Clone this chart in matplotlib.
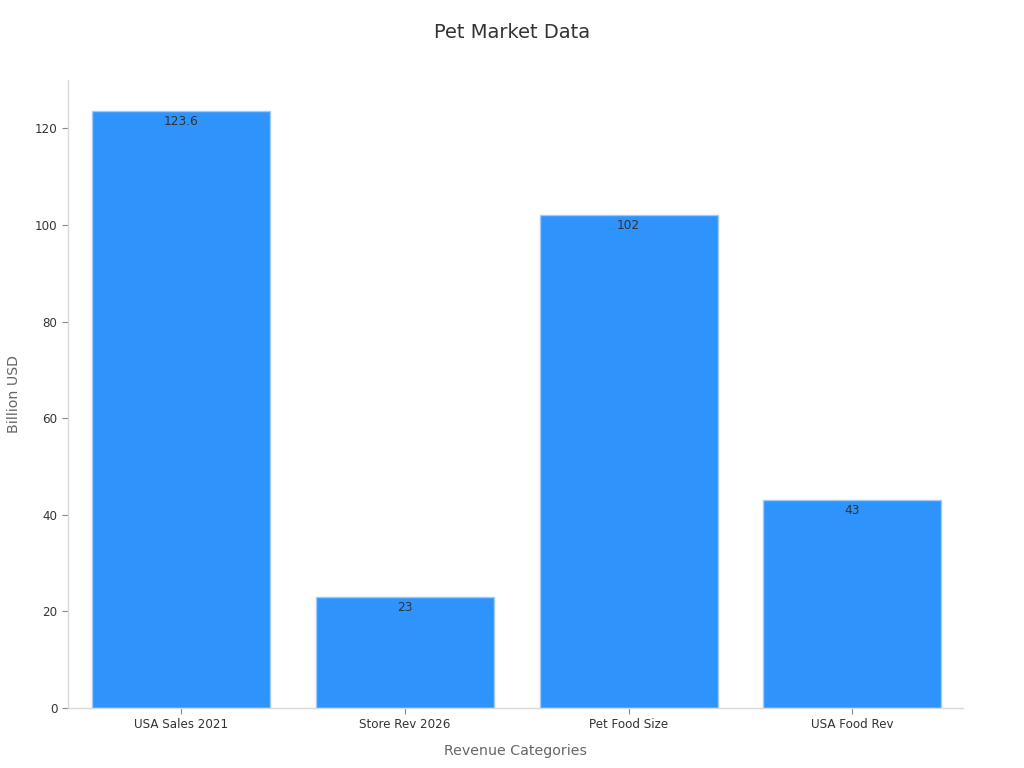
import matplotlib
matplotlib.use("Agg")
import matplotlib.pyplot as plt

plt.rcParams["font.family"] = ["DejaVu Sans"]

categories = ["USA Sales 2021", "Store Rev 2026", "Pet Food Size", "USA Food Rev"]
values = [123.6, 23, 102, 43]
value_labels = ["123.6", "23", "102", "43"]

fig = plt.figure(figsize=(10.24, 7.68), dpi=100)
ax = fig.add_axes([0.0664, 0.0781, 0.874, 0.8177])

x = list(range(len(categories)))
bars = ax.bar(x, values, width=0.795, color="#2E93FA", edgecolor="#9fcbfa", linewidth=1.0, zorder=2)

for b, lab in zip(bars, value_labels):
    ax.annotate(lab, (b.get_x() + b.get_width() / 2, b.get_height()),
                xytext=(0, -3), textcoords="offset points",
                ha="center", va="top", fontsize=8.7, color="#333333")

ax.set_xlim(-0.507, 3.495)
ax.set_ylim(0, 130)
ax.set_yticks([0, 20, 40, 60, 80, 100, 120])
ax.set_xticks(x)
ax.set_xticklabels(categories)
ax.tick_params(axis="both", labelsize=8.6, colors="#333333", length=4)
ax.tick_params(axis="both", color="#888888")

for s in ["top", "right"]:
    ax.spines[s].set_visible(False)
for s in ["left", "bottom"]:
    ax.spines[s].set_color("#d9d9d9")
    ax.spines[s].set_linewidth(1.0)

ax.set_xlabel("Revenue Categories", fontsize=10.2, color="#666666", labelpad=9)
ax.set_ylabel("Billion USD", fontsize=10.2, color="#666666", labelpad=10)
fig.suptitle("Pet Market Data", fontsize=14, color="#333333", y=0.9695)

fig.savefig("out.png", dpi=100)
